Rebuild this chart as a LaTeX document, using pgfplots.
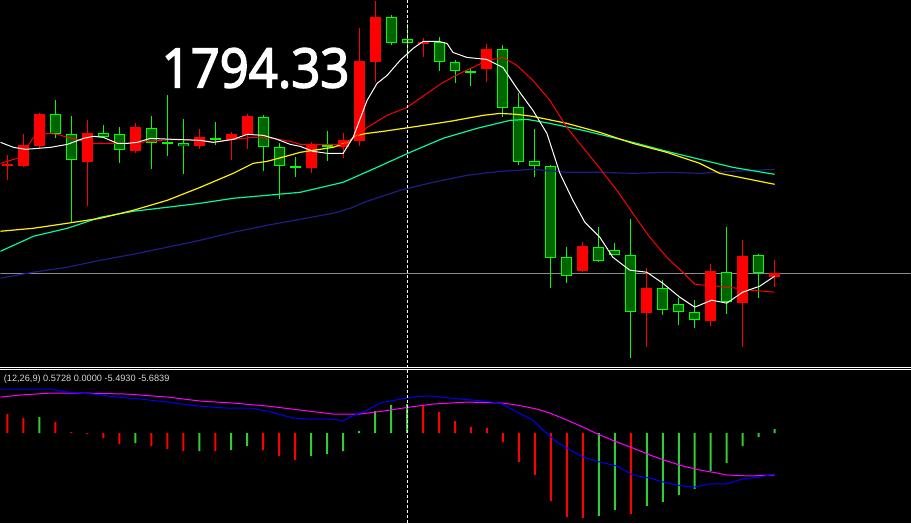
\documentclass[border=0pt]{standalone}
\usepackage{graphicx}
\usepackage{fontspec}
\usepackage{pgfplots}
\usepackage{pgfplotstable}
\pgfplotsset{compat=1.18}
\newfontfamily\pricefont{Open Sans}[FakeBold=3]
\newfontfamily\labelfont{Liberation Sans}

\definecolor{bearred}{RGB}{255,0,0}
\definecolor{bullline}{RGB}{0,255,0}
\definecolor{bullfill}{RGB}{0,100,0}
\definecolor{maaqua}{RGB}{0,250,154}
\definecolor{manavy}{RGB}{30,30,130}
\definecolor{pricegray}{RGB}{140,140,140}
\definecolor{histgreen}{RGB}{50,205,50}
\definecolor{macdblue}{RGB}{0,0,255}
\definecolor{macdsig}{RGB}{255,0,255}
\definecolor{infogray}{RGB}{215,215,215}

% candles, read in screen rows (pixels, downwards): body top t, body bottom b, high h, low l
\pgfplotstableread{
x t b h l
7 164 166 155 180
23 145 166 134 167
39 114 146 113 149
87 133 162 120 206
135 127 151 123 153
199 137 146 129 149
231 134 140 132 160
247 116 135 114 149
311 144 168 142 173
343 140 147 133 158
359 61 141 28 146
375 17 62 0 82
423 42 44 38 57
487 49 69 44 82
583 246 271 242 272
647 288 313 268 347
711 271 321 264 326
743 256 303 240 347
775 273 277 260 287
}\bear

\pgfplotstableread{
x t b h l
55 114 134 100 138
71 134 160 116 222
103 133 137 125 137
119 134 150 127 163
151 128 143 116 169
167 142 144 95 156
183 143 146 119 174
215 138 140 122 145
263 117 147 115 171
279 147 166 143 199
295 166 168 157 177
327 145 147 131 161
391 17 43 15 45
407 39 43 24 59
439 42 62 37 71
455 62 71 60 83
471 71 72 69 86
503 49 108 45 117
519 107 162 93 165
535 161 166 129 177
551 166 258 165 288
567 257 276 247 283
599 247 261 227 262
615 250 255 243 255
631 255 312 219 358
663 288 310 280 315
679 304 312 298 325
695 312 320 300 328
727 272 302 227 314
759 255 273 254 298
}\bull

\pgfplotsset{
  vbar/.style 2 args={draw=none, no markers, forget plot,
    error bars/.cd, y dir=both, y explicit, error mark=none,
    error bar style={draw=#1, line width=#2, solid}},
}

\begin{document}
\begin{tikzpicture}
\fill[black] (0pt,0pt) rectangle (455.5pt,-261.5pt);

% price panel
\begin{axis}[at={(0pt,0pt)}, anchor=north west, scale only axis,
  width=455.5pt, height=183.5pt,
  xmin=0, xmax=911, ymin=0, ymax=367, y dir=reverse,
  hide axis, clip=true]
  \draw[pricegray, line width=0.5pt] (0,273) -- (911,273);

  % wicks
  \addplot[vbar={bearred}{0.5pt}] table[x=x, y expr={(\thisrow{h}+\thisrow{l})/2},
    y error expr={(\thisrow{l}-\thisrow{h})/2}] {\bear};
  \addplot[vbar={bullline}{0.5pt}] table[x=x, y expr={(\thisrow{h}+\thisrow{l})/2},
    y error expr={(\thisrow{l}-\thisrow{h})/2}] {\bull};
  % bodies
  \addplot[vbar={bearred}{5.5pt}] table[x=x, y expr={(\thisrow{t}+\thisrow{b})/2},
    y error expr={(\thisrow{b}-\thisrow{t})/2}] {\bear};
  \addplot[vbar={bullline}{5.5pt}] table[x=x, y expr={(\thisrow{t}+\thisrow{b})/2},
    y error expr={(\thisrow{b}-\thisrow{t})/2}] {\bull};
  \addplot[vbar={bullfill}{4.5pt}] table[x=x, y expr={(\thisrow{t}+\thisrow{b})/2},
    y error expr={max(0,(\thisrow{b}-\thisrow{t})/2-1)}] {\bull};

  % moving averages
  \addplot[manavy, line width=0.6pt] coordinates {
    (0,278)(33,272)(67,267)(100,260)(133,254)(167,247)(200,240)(233,232)(267,225)
    (300,219)(333,213)(350,208)(367,201)(400,190)(433,182)(467,175)(500,171)(533,169)
    (567,172)(600,172)(633,173)(667,172)(700,173)(733,171)(775,169)};
  \addplot[maaqua, line width=0.6pt] coordinates {
    (0,251)(33,236)(67,228)(100,217)(133,211)(167,207)(200,203)(233,198)(267,195)
    (300,192)(343,182)(377,167)(410,152)(443,138)(477,128)(510,120)(527,119)(550,123)
    (583,130)(600,134)(633,142)(667,151)(700,159)(733,167)(775,174)};
  \addplot[yellow, line width=0.6pt] coordinates {
    (0,231)(33,228)(67,223)(100,218)(133,210)(167,200)(200,187)(233,173)(253,163)
    (267,161)(293,154)(300,152)(333,147)(347,142)(357,135)(367,133)(383,131)(417,126)
    (450,121)(483,115)(500,113)(517,114)(533,116)(567,123)(600,132)(633,143)(667,152)
    (700,163)(720,173)(740,177)(775,184)};
  \addplot[bearred, line width=0.5pt] coordinates {
    (0,163)(20,157)(33,137)(47,133)(57,134)(67,137)(80,140)(93,143)(110,143)(127,143)
    (140,142)(160,140)(180,139)(200,140)(213,142)(233,139)(253,137)(273,138)(290,141)
    (300,144)(343,144)(355,137)(367,127)(387,115)(407,107)(427,93)(443,82)(460,73)
    (477,65)(487,60)(503,57)(517,65)(533,80)(550,100)(567,127)(583,147)(600,168)
    (617,190)(633,213)(650,237)(668,258)(683,272)(695,284)(705,285)(717,286)(737,288)
    (752,290)(775,292)};
  \addplot[white, line width=0.5pt] coordinates {
    (0,142)(13,147)(25,149)(50,147)(67,144)(83,138)(93,136)(103,137)(117,143)(127,143)
    (137,142)(150,138)(173,139)(200,140)(213,142)(233,139)(247,134)(263,135)(277,139)
    (290,144)(300,146)(313,151)(327,153)(343,153)(353,137)(367,100)(377,83)(387,75)
    (400,60)(413,48)(423,41)(439,41)(447,43)(453,52)(467,57)(487,59)(493,62)(503,67)
    (517,88)(533,110)(547,133)(560,173)(573,200)(585,222)(600,237)(613,257)(630,270)
    (647,272)(663,283)(680,297)(695,307)(712,300)(727,303)(743,292)(760,286)(775,276)};

  \node[anchor=base west, inner sep=0pt, text=white,
    font=\pricefont\fontsize{25.4}{26}\selectfont] at (161,87) {\scalebox{1}[1.07]{1794.33}};
\end{axis}

% MACD panel (values in pixels above the zero line)
\begin{axis}[at={(0pt,-184.5pt)}, anchor=north west, scale only axis,
  width=455.5pt, height=77pt,
  xmin=0, xmax=911, ymin=-90, ymax=64,
  hide axis, clip=true]
  \addplot[ybar, bar width=1pt, bar shift=0pt, draw=none, fill=bearred] coordinates {
    (7,19)(23,15)(55,11)(71,1)(87,-1)(103,-5)(119,-11)(151,-13)(167,-16)(183,-18)
    (215,-18)(263,-17)(279,-23)(295,-27)(423,27)(439,21)(455,12)(471,6)(487,5)
    (503,-9)(519,-29)(535,-42)(551,-68)(567,-84)(583,-85)(631,-81)};
  \addplot[ybar, bar width=1pt, bar shift=0pt, draw=none, fill=histgreen] coordinates {
    (39,16)(135,-10)(199,-18)(231,-17)(247,-13)(311,-23)(327,-21)(343,-18)(359,2)
    (375,22)(391,28)(407,29)(599,-83)(615,-77)(647,-73)(663,-69)(679,-62)(695,-56)
    (711,-38)(727,-30)(743,-13)(759,-4)(775,4)};
  \addplot[macdsig, line width=0.5pt] coordinates {
    (0,36)(20,38)(50,40)(83,40)(127,39)(167,36)(200,32)(233,30)(267,27)(300,23)
    (333,19)(360,19)(383,22)(410,26)(433,29)(450,30)(467,31)(503,30)(517,28)(537,24)
    (550,20)(567,13)(583,6)(600,-2)(617,-9)(633,-15)(650,-22)(667,-28)(683,-33)
    (700,-37)(717,-40)(727,-42)(750,-43)(775,-42)};
  \addplot[macdblue, line width=0.5pt] coordinates {
    (0,44)(20,44)(50,44)(67,41)(93,39)(117,36)(140,34)(167,31)(197,27)(227,25)(250,25)
    (267,22)(293,15)(307,14)(333,14)(343,12)(350,16)(367,23)(380,30)(400,34)(420,37)
    (433,37)(450,35)(483,32)(500,30)(517,21)(533,13)(543,3)(557,-9)(567,-15)(583,-24)
    (600,-29)(617,-33)(633,-42)(650,-45)(667,-50)(683,-53)(695,-54)(710,-51)(727,-51)
    (743,-46)(760,-44)(775,-41)};
\end{axis}

% panel separator and crosshair
\draw[white, line width=0.5pt] (0pt,-183.75pt) -- (455.5pt,-183.75pt);
\draw[white, line width=0.5pt] (0pt,-184.75pt) -- (455.5pt,-184.75pt);
\draw[white, line width=0.5pt, dash pattern=on 1.5pt off 1pt] (203.75pt,0pt) -- (203.75pt,-261.5pt);
\node[anchor=base west, inner sep=0pt, text=infogray,
  font=\labelfont\fontsize{4.6}{5}\selectfont] at (1.5pt,-190.6pt)
  {(12,26,9) 0.5728 0.0000 -5.4930 -5.6839};
\end{tikzpicture}
\end{document}
